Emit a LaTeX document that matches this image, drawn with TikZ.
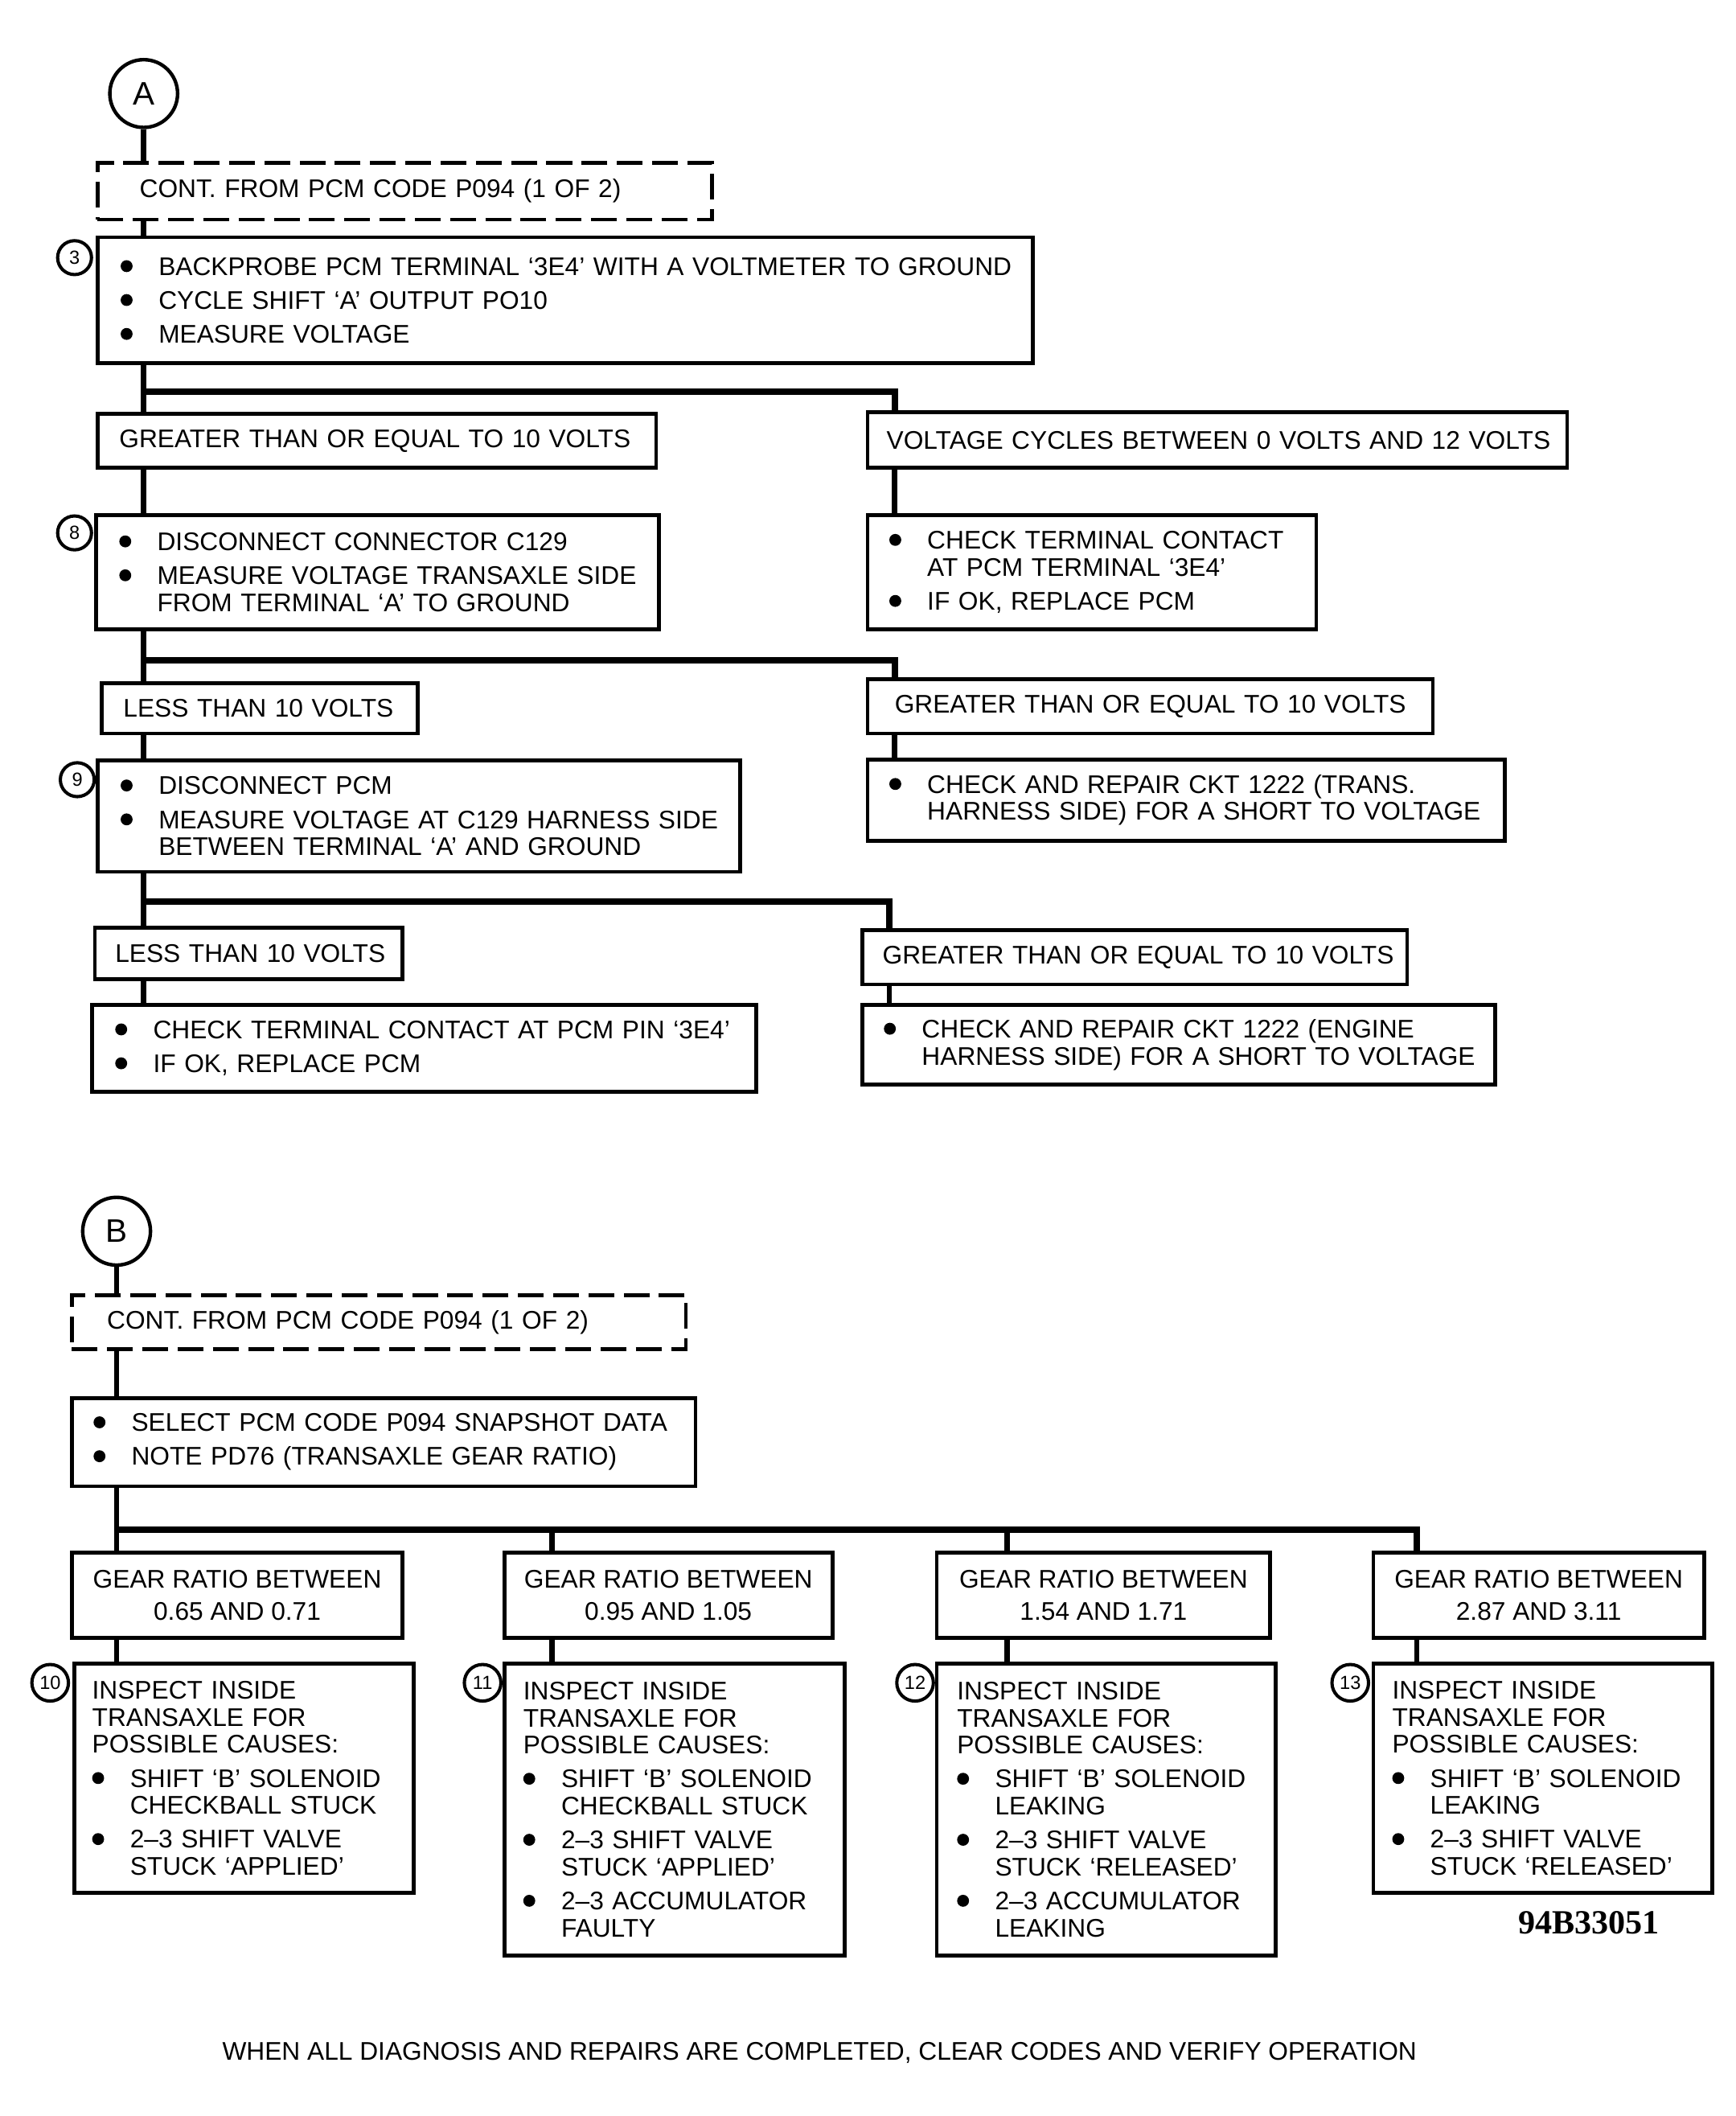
\documentclass[tikz,border=0pt]{standalone}
\usepackage{fontspec}
\setmainfont{Liberation Sans}
\newfontfamily\codefont{Liberation Serif}
\usetikzlibrary{positioning}

% bullet and list lines
\newcommand\blt{\tikz[baseline=0pt,x=1pt,y=1pt]\fill (4.4,6.7) circle (4.4);}
\newcommand\itm[1]{\makebox[28pt][l]{\blt}\mbox{#1}}
\newcommand\cnt[1]{\hspace*{28pt}\mbox{#1}}

\tikzset{
  box/.style={draw, line width=2.8pt, anchor=north west, align=left,
    inner ysep=3pt, outer sep=0pt},
  dbox/.style={box, dash pattern=on 19pt off 7pt},
  gbox/.style={draw, line width=2.8pt, anchor=north west, align=center,
    inner sep=0pt, outer sep=0pt, minimum width=244pt, minimum height=63pt},
  num/.style={circle, draw, line width=2.4pt, minimum size=25pt, inner sep=0pt,
    font=\fontsize{14}{14}\selectfont},
  letter/.style={circle, draw, line width=2.6pt, minimum size=50pt, inner sep=0pt,
    font=\fontsize{24}{24}\selectfont},
  conn/.style={line width=4pt},
  bus/.style={line width=4.6pt},
}

\begin{document}
\begin{tikzpicture}[x=1pt,y=-1pt,every node/.append style={font=\fontsize{18.8}{20}\selectfont}]
\useasboundingbox (0,0) rectangle (1280,1560.5);

% ---- chart A ----
\node[letter] (cA) at (106,69) {A};
\node[dbox, text width=391pt, minimum height=42pt, inner xsep=31pt] (dA) at (72,120) {\mbox{CONT. FROM PCM CODE P094 (1 OF 2)}};

\node[box, text width=656pt, minimum height=93pt, inner xsep=17pt] (s3) at (72,175)
  {\itm{BACKPROBE PCM TERMINAL `3E4' WITH A VOLTMETER TO GROUND}\\[5pt]\itm{CYCLE SHIFT `A' OUTPUT PO10}\\[5pt]\itm{MEASURE VOLTAGE}};
\node[num] (n3) at (55,190) {3};

\node[box, text width=380pt, minimum height=40pt, inner xsep=16pt] (g1) at (72,305) {\mbox{GREATER THAN OR EQUAL TO 10 VOLTS}};
\node[box, text width=488pt, minimum height=41pt, inner xsep=14pt] (v1) at (640,304) {\mbox{VOLTAGE CYCLES BETWEEN 0 VOLTS AND 12 VOLTS}};

\node[box, text width=381pt, minimum height=84pt, inner xsep=17pt] (s8) at (71,380)
  {\itm{DISCONNECT CONNECTOR C129}\\[5pt]\itm{MEASURE VOLTAGE TRANSAXLE SIDE}\\\cnt{FROM TERMINAL `A' TO GROUND}};
\node[num] (n8) at (55,393) {8};
\node[box, text width=299pt, minimum height=84pt, inner xsep=16pt] (ct1) at (640,380)
  {\itm{CHECK TERMINAL CONTACT}\\\cnt{AT PCM TERMINAL `3E4'}\\[5pt]\itm{IF OK, REPLACE PCM}};

\node[box, text width=201pt, minimum height=37pt, inner xsep=16pt] (l1) at (75,504) {\mbox{LESS THAN 10 VOLTS}};
\node[box, text width=377pt, minimum height=40pt, inner xsep=20pt] (g2) at (640,501) {\mbox{GREATER THAN OR EQUAL TO 10 VOLTS}};

\node[box, text width=440pt, minimum height=82pt, inner xsep=17pt] (s9) at (72,561)
  {\itm{DISCONNECT PCM}\\[5pt]\itm{MEASURE VOLTAGE AT C129 HARNESS SIDE}\\\cnt{BETWEEN TERMINAL `A' AND GROUND}};
\node[num] (n9) at (57,575) {9};
\node[box, text width=438pt, minimum height=60pt, inner xsep=16pt] (cr1) at (640,560)
  {\itm{CHECK AND REPAIR CKT 1222 (TRANS.}\\\cnt{HARNESS SIDE) FOR A SHORT TO VOLTAGE}};

\node[box, text width=197pt, minimum height=38pt, inner xsep=15pt] (l2) at (70,684) {\mbox{LESS THAN 10 VOLTS}};
\node[box, text width=372pt, minimum height=40pt, inner xsep=15pt] (g3) at (636,686) {\mbox{GREATER THAN OR EQUAL TO 10 VOLTS}};

\node[box, text width=456pt, minimum height=64pt, inner xsep=17pt] (ct2) at (68,741)
  {\itm{CHECK TERMINAL CONTACT AT PCM PIN `3E4'}\\[5pt]\itm{IF OK, REPLACE PCM}};
\node[box, text width=435pt, minimum height=59pt, inner xsep=16pt] (cr2) at (636,741)
  {\itm{CHECK AND REPAIR CKT 1222 (ENGINE}\\\cnt{HARNESS SIDE) FOR A SHORT TO VOLTAGE}};

\coordinate (ra) at (660,289);
\coordinate (rb) at (660,487);
\coordinate (rc) at (656,665);

\draw[conn] (cA) -- (cA |- dA.north);
\draw[conn] (cA |- dA.south) -- (cA |- s3.north);
\draw[conn] (cA |- s3.south) -- (cA |- g1.north);
\draw[conn] (cA |- g1.south) -- (cA |- s8.north);
\draw[conn] (cA |- s8.south) -- (cA |- l1.north);
\draw[conn] (cA |- l1.south) -- (cA |- s9.north);
\draw[conn] (cA |- s9.south) -- (cA |- l2.north);
\draw[conn] (cA |- l2.south) -- (cA |- ct2.north);
\draw[bus] (cA |- ra) -- (ra) -- (ra |- v1.north);
\draw[bus] (cA |- rb) -- (rb) -- (rb |- g2.north);
\draw[bus] (cA |- rc) -- (rc) -- (rc |- g3.north);
\draw[conn] (ra |- v1.south) -- (ra |- ct1.north);
\draw[conn] (rb |- g2.south) -- (rb |- cr1.north);
\draw[conn] (rc |- g3.south) -- (rc |- cr2.north);

% ---- chart B ----
\node[letter] (cB) at (86,908) {B};
\node[dbox, text width=401pt, minimum height=40pt, inner xsep=26pt] (dB) at (53,955) {\mbox{CONT. FROM PCM CODE P094 (1 OF 2)}};
\node[box, text width=428pt, minimum height=65pt, inner xsep=16pt] (sn) at (53,1031)
  {\itm{SELECT PCM CODE P094 SNAPSHOT DATA}\\[5pt]\itm{NOTE PD76 (TRANSAXLE GEAR RATIO)}};

\node[gbox] (gr1) at (53,1145) {GEAR RATIO BETWEEN\\[4pt]0.65 AND 0.71};
\node[gbox, minimum width=242pt] (gr2) at (372,1145) {GEAR RATIO BETWEEN\\[4pt]0.95 AND 1.05};
\node[gbox, minimum width=246pt] (gr3) at (691,1145) {GEAR RATIO BETWEEN\\[4pt]1.54 AND 1.71};
\node[gbox] (gr4) at (1013,1145) {GEAR RATIO BETWEEN\\[4pt]2.87 AND 3.11};

\node[box, text width=224pt, minimum height=169pt, inner xsep=13pt] (i10) at (55,1227)
  {INSPECT INSIDE\\TRANSAXLE FOR\\POSSIBLE CAUSES:\\[5pt]\itm{SHIFT `B' SOLENOID}\\\cnt{CHECKBALL STUCK}\\[5pt]\itm{2--3 SHIFT VALVE}\\\cnt{STUCK `APPLIED'}};
\node[box, text width=223pt, minimum height=215pt, inner xsep=14pt] (i11) at (372,1227)
  {INSPECT INSIDE\\TRANSAXLE FOR\\POSSIBLE CAUSES:\\[5pt]\itm{SHIFT `B' SOLENOID}\\\cnt{CHECKBALL STUCK}\\[5pt]\itm{2--3 SHIFT VALVE}\\\cnt{STUCK `APPLIED'}\\[5pt]\itm{2--3 ACCUMULATOR}\\\cnt{FAULTY}};
\node[box, text width=220pt, minimum height=215pt, inner xsep=15pt] (i12) at (691,1227)
  {INSPECT INSIDE\\TRANSAXLE FOR\\POSSIBLE CAUSES:\\[5pt]\itm{SHIFT `B' SOLENOID}\\\cnt{LEAKING}\\[5pt]\itm{2--3 SHIFT VALVE}\\\cnt{STUCK `RELEASED'}\\[5pt]\itm{2--3 ACCUMULATOR}\\\cnt{LEAKING}};
\node[box, text width=222pt, minimum height=169pt, inner xsep=14pt] (i13) at (1013,1227)
  {INSPECT INSIDE\\TRANSAXLE FOR\\POSSIBLE CAUSES:\\[5pt]\itm{SHIFT `B' SOLENOID}\\\cnt{LEAKING}\\[5pt]\itm{2--3 SHIFT VALVE}\\\cnt{STUCK `RELEASED'}};
\node[num, minimum size=27pt] (n10) at (37,1241) {10};
\node[num, minimum size=27pt] (n11) at (356,1241) {11};
\node[num, minimum size=27pt] (n12) at (675,1241) {12};
\node[num, minimum size=27pt] (n13) at (996,1241) {13};

\coordinate (t2) at (407,1128);
\coordinate (t3) at (743,1128);
\coordinate (t4) at (1045,1128);

\draw[conn] (cB) -- (cB |- dB.north);
\draw[conn] (cB |- dB.south) -- (cB |- sn.north);
\draw[conn] (cB |- sn.south) -- (cB |- gr1.north);
\draw[bus] (cB |- t4) -- (t4) -- (t4 |- gr4.north);
\draw[conn] (t2) -- (t2 |- gr2.north);
\draw[conn] (t3) -- (t3 |- gr3.north);
\draw[conn] (cB |- gr1.south) -- (cB |- i10.north);
\draw[conn] (t2 |- gr2.south) -- (t2 |- i11.north);
\draw[conn] (t3 |- gr3.south) -- (t3 |- i12.north);
\draw[conn] (t4 |- gr4.south) -- (t4 |- i13.north);

\node[font=\codefont\bfseries\fontsize{25}{25}\selectfont] (fig) at (1172,1418) {94B33051};
\node (note) at (604.5,1514) {WHEN ALL DIAGNOSIS AND REPAIRS ARE COMPLETED, CLEAR CODES AND VERIFY OPERATION};
\end{tikzpicture}
\end{document}
